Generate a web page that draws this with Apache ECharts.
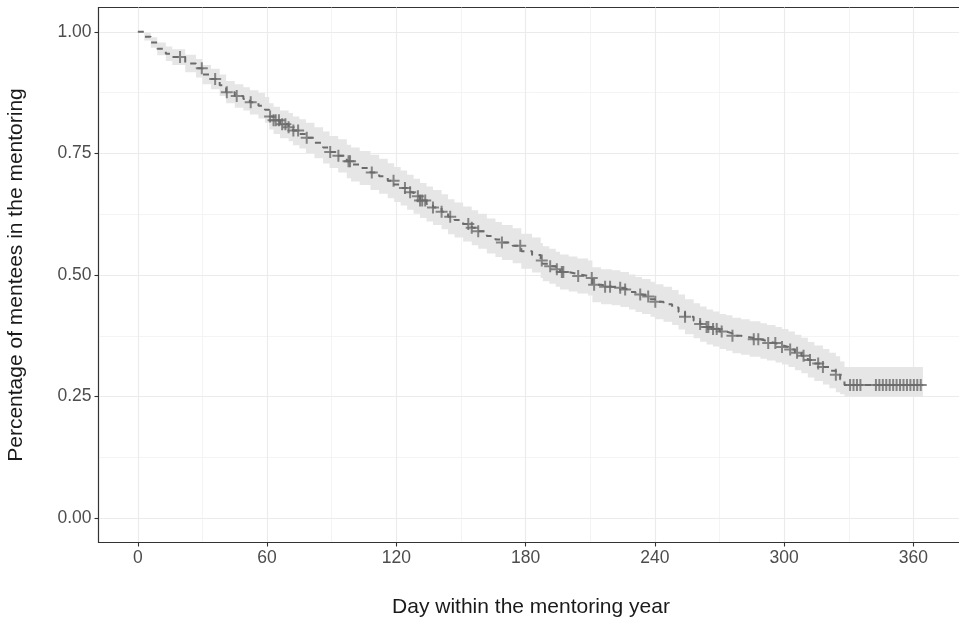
<!DOCTYPE html>
<html>
<head>
<meta charset="utf-8">
<script src="https://cdn.jsdelivr.net/npm/echarts@6/dist/echarts.min.js"></script>
<style>
  html, body { margin: 0; padding: 0; background: #fff; }
  #chart { width: 959px; height: 621px; }
</style>
</head>
<body>
<div id="chart"></div>
<script>
// Kaplan-Meier steps: day of each drop and the value after it
var eventDays = [0, 3, 6, 9, 13, 16, 22, 27, 30, 34, 38, 41, 45, 49, 52, 56, 59, 61, 63, 66,
  70, 72, 75, 78, 82, 86, 89, 93, 97, 99, 103, 108, 112, 116, 119, 122, 125, 128, 131, 134,
  137, 141, 144, 147, 151, 155, 158, 162, 166, 169, 174, 178, 183, 187, 188, 191, 194, 196, 200, 204,
  209, 211, 215, 220, 224, 228, 231, 234, 238, 240, 244, 248, 251, 254, 258, 261, 264, 267, 270, 273,
  276, 280, 284, 289, 292, 296, 299, 302, 305, 308, 311, 314, 318, 321, 324, 326, 328, 364.4];
var survival = [1.000, 0.990, 0.978, 0.965, 0.955, 0.948, 0.935, 0.925, 0.912, 0.903, 0.890, 0.876, 0.868, 0.862, 0.855, 0.848, 0.840, 0.826, 0.818, 0.810,
  0.804, 0.797, 0.790, 0.782, 0.772, 0.762, 0.753, 0.745, 0.734, 0.727, 0.720, 0.711, 0.703, 0.694, 0.686, 0.679, 0.670, 0.662, 0.653, 0.646,
  0.639, 0.630, 0.620, 0.613, 0.605, 0.597, 0.590, 0.580, 0.573, 0.567, 0.560, 0.549, 0.541, 0.530, 0.523, 0.518, 0.512, 0.506, 0.502, 0.498,
  0.494, 0.480, 0.476, 0.474, 0.470, 0.465, 0.460, 0.456, 0.450, 0.445, 0.440, 0.433, 0.424, 0.414, 0.406, 0.399, 0.393, 0.389, 0.384, 0.380,
  0.375, 0.372, 0.368, 0.364, 0.360, 0.356, 0.352, 0.347, 0.340, 0.334, 0.325, 0.318, 0.311, 0.303, 0.295, 0.285, 0.274, 0.274];
var upperCI = [1.000, 0.998, 0.989, 0.978, 0.970, 0.964, 0.953, 0.944, 0.932, 0.924, 0.912, 0.899, 0.892, 0.886, 0.880, 0.874, 0.866, 0.853, 0.846, 0.838,
  0.833, 0.826, 0.820, 0.813, 0.804, 0.795, 0.786, 0.779, 0.768, 0.762, 0.755, 0.747, 0.739, 0.730, 0.722, 0.715, 0.706, 0.698, 0.689, 0.682,
  0.675, 0.666, 0.656, 0.649, 0.641, 0.633, 0.626, 0.616, 0.609, 0.603, 0.596, 0.585, 0.577, 0.566, 0.559, 0.554, 0.548, 0.542, 0.538, 0.534,
  0.530, 0.516, 0.512, 0.510, 0.506, 0.501, 0.496, 0.492, 0.486, 0.481, 0.476, 0.469, 0.460, 0.450, 0.442, 0.435, 0.429, 0.425, 0.420, 0.417,
  0.412, 0.409, 0.405, 0.401, 0.397, 0.393, 0.389, 0.384, 0.377, 0.371, 0.362, 0.355, 0.348, 0.340, 0.333, 0.322, 0.311, 0.311];
var lowerCI = [1.000, 0.982, 0.967, 0.952, 0.940, 0.932, 0.917, 0.906, 0.892, 0.882, 0.868, 0.853, 0.844, 0.838, 0.830, 0.822, 0.813, 0.799, 0.790, 0.781,
  0.775, 0.767, 0.760, 0.751, 0.740, 0.729, 0.720, 0.711, 0.699, 0.692, 0.685, 0.675, 0.667, 0.658, 0.650, 0.643, 0.634, 0.626, 0.617, 0.610,
  0.603, 0.594, 0.584, 0.577, 0.569, 0.561, 0.554, 0.544, 0.537, 0.531, 0.524, 0.513, 0.505, 0.494, 0.487, 0.482, 0.476, 0.470, 0.466, 0.462,
  0.458, 0.444, 0.440, 0.438, 0.434, 0.429, 0.424, 0.420, 0.414, 0.409, 0.404, 0.397, 0.388, 0.378, 0.370, 0.363, 0.357, 0.353, 0.348, 0.344,
  0.339, 0.336, 0.332, 0.328, 0.324, 0.320, 0.316, 0.311, 0.304, 0.298, 0.289, 0.282, 0.275, 0.267, 0.259, 0.255, 0.250, 0.250];

var censorDays = [19.6, 29.7, 35.9, 41.3, 45.9, 52.4, 61.4, 63, 64, 65.5, 67, 68.5, 70, 72.2, 74.4, 78.4,
  89.3, 93.1, 97.8, 98.5, 108.6, 118.7, 124, 126.4, 130, 131, 132, 133.4, 137, 141, 145, 153.4, 155, 158,
  169, 177.5, 187.5, 191.4, 194.5, 196.8, 197.5, 204.4, 210.7, 211.8, 216.9, 219.2, 223.9, 226.2, 233.2,
  236.9, 240.2, 254, 261, 264, 264.8, 267, 268.7, 271, 276, 285.9, 288, 292.6, 295.9, 299, 302.8, 306,
  309, 312, 315.8, 318, 324, 330.6, 332.2, 333.8, 335.4, 342.6, 344.2, 345.8, 347.4, 349, 350.6,
  352.2, 353.8, 355.4, 357, 358.6, 360.2, 361.8, 363.4];

var xTicks = [0, 60, 120, 180, 240, 300, 360];
var xMinor = [30, 90, 150, 210, 270, 330];
var yTicks = [0, 0.25, 0.5, 0.75, 1];
var yMinor = [0.125, 0.375, 0.625, 0.875];

function survAt(day) {
  var v = survival[0];
  for (var i = 0; i < eventDays.length; i++) {
    if (eventDays[i] <= day) v = survival[i];
  }
  return v;
}

var lineColor = "#6b6b6b";
var axisColor = "#333333";
var font = "Liberation Sans, Arial, sans-serif";

var chart = echarts.init(document.getElementById("chart"));

var curve = eventDays.map(function (d, i) { return [d, survival[i]]; });
var bandData = eventDays.map(function (d, i) { return [d, lowerCI[i], upperCI[i]]; });
var censorData = censorDays.map(function (d) { return [d, survAt(d)]; });

// step shaped confidence band, one polygon through the axis scales
function renderBand(params, api) {
  if (params.dataIndex !== 0) return null;
  var top = [], bottom = [];
  for (var i = 0; i < eventDays.length - 1; i++) {
    top.push(api.coord([eventDays[i], upperCI[i]]));
    top.push(api.coord([eventDays[i + 1], upperCI[i]]));
    bottom.push(api.coord([eventDays[i], lowerCI[i]]));
    bottom.push(api.coord([eventDays[i + 1], lowerCI[i]]));
  }
  return {
    type: "polygon",
    shape: { points: top.concat(bottom.reverse()) },
    style: { fill: "#e6e6e6", stroke: null }
  };
}

chart.setOption({
  animation: false,
  grid: {
    left: 98.5,
    right: -4.5,
    top: 7.5,
    bottom: 78.5,
    outerBoundsMode: "none",
    containLabel: false,
    show: true,
    borderColor: axisColor,
    borderWidth: 1.1,
    backgroundColor: "#fff"
  },
  xAxis: [
    {
      type: "value",
      min: -18.25,
      max: 383.25,
      name: "Day within the mentoring year",
      nameLocation: "middle",
      nameGap: 54,
      nameTextStyle: { color: "#1a1a1a", fontSize: 21, fontFamily: font },
      axisLine: { show: true, onZero: false, lineStyle: { color: axisColor, width: 1.1 } },
      axisTick: { show: true, length: 4, customValues: xTicks, lineStyle: { color: axisColor, width: 1.1 } },
      axisLabel: { customValues: xTicks, color: "#4d4d4d", fontSize: 17.5, fontFamily: font, margin: 7 },
      splitLine: { show: true, lineStyle: { color: "#ebebeb", width: 1.1 } }
    },
    {
      type: "value",
      min: -18.25,
      max: 383.25,
      position: "top",
      axisLine: { show: false, onZero: false },
      axisTick: { show: false, customValues: xMinor },
      axisLabel: { show: false, customValues: xMinor },
      splitLine: { show: true, lineStyle: { color: "#efefef", width: 0.7 } }
    }
  ],
  yAxis: [
    {
      type: "value",
      min: -0.05,
      max: 1.05,
      name: "Percentage of mentees in the mentoring",
      nameLocation: "middle",
      nameGap: 72,
      nameTextStyle: { color: "#1a1a1a", fontSize: 21, fontFamily: font },
      axisLine: { show: true, onZero: false, lineStyle: { color: axisColor, width: 1.1 } },
      axisTick: { show: true, length: 4, customValues: yTicks, lineStyle: { color: axisColor, width: 1.1 } },
      axisLabel: {
        customValues: yTicks,
        color: "#4d4d4d",
        fontSize: 17.5,
        fontFamily: font,
        margin: 7,
        formatter: function (v) { return v.toFixed(2); }
      },
      splitLine: { show: true, lineStyle: { color: "#ebebeb", width: 1.1 } }
    },
    {
      type: "value",
      min: -0.05,
      max: 1.05,
      position: "right",
      axisLine: { show: false, onZero: false },
      axisTick: { show: false, customValues: yMinor },
      axisLabel: { show: false, customValues: yMinor },
      splitLine: { show: true, lineStyle: { color: "#efefef", width: 0.7 } }
    }
  ],
  series: [
    {
      name: "band",
      type: "custom",
      renderItem: renderBand,
      data: bandData,
      encode: { x: 0, y: [1, 2] },
      z: 2
    },
    {
      name: "survival",
      type: "line",
      step: "end",
      data: curve,
      symbol: "none",
      lineStyle: { color: lineColor, width: 2, type: [6, 6] },
      z: 3
    },
    {
      name: "censored",
      type: "scatter",
      data: censorData,
      symbol: "path://M0,-1L0,1M-1,0L1,0",
      symbolSize: 12,
      itemStyle: { color: "rgba(0,0,0,0)", borderColor: lineColor, borderWidth: 2 },
      z: 4
    }
  ]
});
</script>
</body>
</html>
